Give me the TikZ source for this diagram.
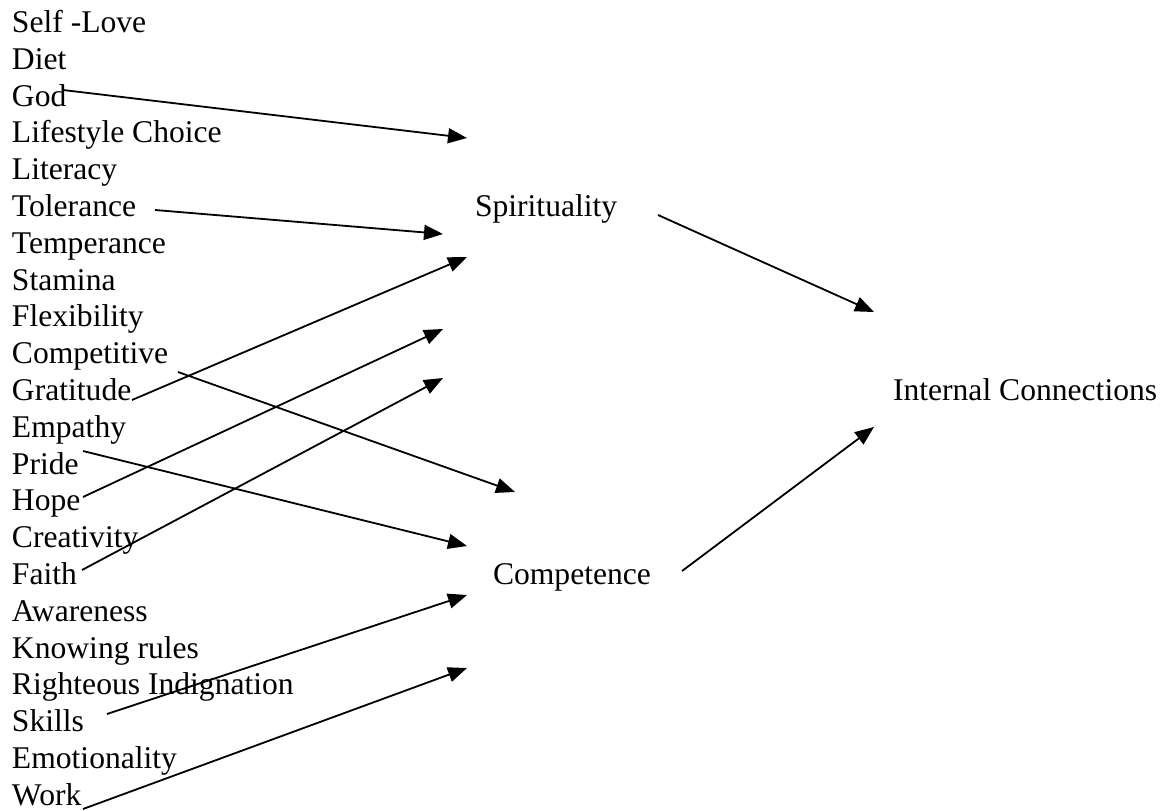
\documentclass[tikz,border=0pt]{standalone}
\usepackage{fontspec}
\setmainfont{Liberation Serif}
\usetikzlibrary{arrows.meta}

\tikzset{
  word/.style={anchor=base west, inner sep=0pt, outer sep=0pt,
               font=\fontsize{31.6}{36.8}\selectfont},
  link/.style={line width=1.8pt, -{Triangle[length=19pt,width=15pt]}}
}

\begin{document}
\begin{tikzpicture}[x=1pt,y=-1pt]
  \useasboundingbox (0,0) rectangle (1165,811);

  % left-hand list of qualities
  \foreach \t [count=\i from 0] in {Self -Love,Diet,God,Lifestyle Choice,Literacy,
      Tolerance,Temperance,Stamina,Flexibility,Competitive,Gratitude,Empathy,
      Pride,Hope,Creativity,Faith,Awareness,Knowing rules,Righteous Indignation,
      Skills,Emotionality,Work}
    \node[word] (w\i) at (12,{32.5+36.8*\i}) {\t};

  % middle and right categories
  \node[word] (spir) at (475,216.5) {Spirituality};
  \node[word] (comp) at (493,584.5) {Competence};
  \node[word] (inner) at (893,400.5) {Internal Connections};

  % connector end points
  \coordinate (sGod)   at (63,90);    \coordinate (eGod)   at (467,138);
  \coordinate (sTol)   at (155,210);  \coordinate (eTol)   at (443,234);
  \coordinate (sGrat)  at (132,400);  \coordinate (eGrat)  at (467,257);
  \coordinate (sHope)  at (83,497);   \coordinate (eHope)  at (443,329);
  \coordinate (sFaith) at (82,570);   \coordinate (eFaith) at (443,378);
  \coordinate (sComp)  at (178,372);  \coordinate (eComp)  at (515,492);
  \coordinate (sEmp)   at (83,451);   \coordinate (eEmp)   at (467,546);
  \coordinate (sSkill) at (107,714);  \coordinate (eSkill) at (467,595);
  \coordinate (sWork)  at (83,809);   \coordinate (eWork)  at (467,668);
  \coordinate (sSpir)  at (658,215);  \coordinate (eSpir)  at (874,312);
  \coordinate (sCompt) at (682,571);  \coordinate (eCompt) at (874,427);

  % connectors
  \draw[link] (sGod) -- (eGod);
  \draw[link] (sTol) -- (eTol);
  \draw[link] (sGrat) -- (eGrat);
  \draw[link] (sHope) -- (eHope);
  \draw[link] (sFaith) -- (eFaith);
  \draw[link] (sComp) -- (eComp);
  \draw[link] (sEmp) -- (eEmp);
  \draw[link] (sSkill) -- (eSkill);
  \draw[link] (sWork) -- (eWork);
  \draw[link] (sSpir) -- (eSpir);
  \draw[link] (sCompt) -- (eCompt);
\end{tikzpicture}
\end{document}
